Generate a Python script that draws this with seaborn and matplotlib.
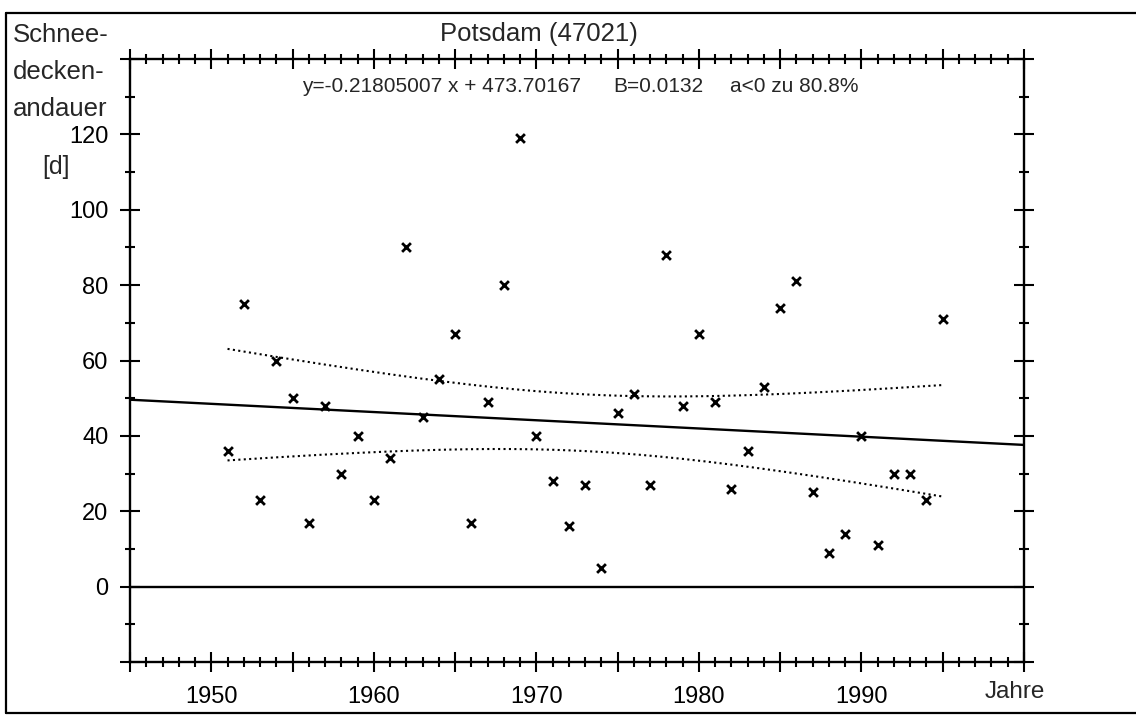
import numpy as np
import pandas as pd
import matplotlib
matplotlib.use("Agg")
import matplotlib.pyplot as plt
import seaborn as sns
from matplotlib.ticker import MultipleLocator, FuncFormatter
from matplotlib.lines import Line2D

# ---------------- data ----------------
years = list(range(1951, 1996))
snow_days = [36, 75, 23, 60, 50, 17, 48, 30, 40, 23, 34,
             90, 45, 55, 67, 17, 49, 80, 119, 40, 28, 16, 27,
             5, 46, 51, 27, 88, 48, 67, 49, 26, 36, 53,
             74, 81, 25, 9, 14, 40, 11, 30, 30, 23, 71]
slope = -0.21805007
intercept = 473.70167
t_95 = 2.017  # Student t, 95 %, df = 43

title = "Potsdam (47021)"
eq_parts = ["y=-0.21805007 x + 473.70167", "B=0.0132", "a<0 zu 80.8%"]
ylabel_lines = ["Schnee-", "decken-", "andauer"]
unit_label = "[d]"
xlabel = "Jahre"
xlim = (1945, 2000)
ylim = (-20, 140)

# ---------------- style ----------------
sns.set_theme(style="ticks")
plt.rcParams["font.family"] = ["Liberation Sans", "DejaVu Sans"]

W, H = 1136, 716
fig = plt.figure(figsize=(W / 100, H / 100), dpi=100)
fig.patch.set_facecolor("white")

def fx(px):
    return px / W

def fy(py):
    return 1 - py / H

ax = fig.add_axes([fx(130), fy(662), fx(1024) - fx(130), fy(59) - fy(662)])
ax.set_facecolor("white")

df = pd.DataFrame({"Jahr": years, "Tage": snow_days})

# regression line over the full axis
xr = np.array(xlim, dtype=float)
line_df = pd.DataFrame({"x": xr, "y": slope * xr + intercept})
sns.lineplot(data=line_df, x="x", y="y", ax=ax, color="black", lw=1.7)

# zero line
zero_df = pd.DataFrame({"x": xr, "y": [0.0, 0.0]})
sns.lineplot(data=zero_df, x="x", y="y", ax=ax, color="black", lw=1.7)

# confidence band of the regression (computed from the data)
xa = np.asarray(years, dtype=float)
ya = np.asarray(snow_days, dtype=float)
resid = ya - (slope * xa + intercept)
n = len(xa)
s = np.sqrt(np.sum(resid ** 2) / (n - 2))
sxx = np.sum((xa - xa.mean()) ** 2)
xg = np.linspace(xa.min(), xa.max(), 200)
half = t_95 * s * np.sqrt(1 / n + (xg - xa.mean()) ** 2 / sxx)
yg = slope * xg + intercept
for sign in (1, -1):
    band_df = pd.DataFrame({"x": xg, "y": yg + sign * half})
    sns.lineplot(data=band_df, x="x", y="y", ax=ax, color="black",
                 lw=1.5, linestyle=(0, (1, 1.6)))

# points
sns.scatterplot(data=df, x="Jahr", y="Tage", ax=ax, marker="x",
                 color="black", s=40, linewidth=2.0, zorder=5)

ax.set_xlim(*xlim)
ax.set_ylim(*ylim)
ax.set_xlabel("")
ax.set_ylabel("")

ax.xaxis.set_major_locator(MultipleLocator(5))
ax.xaxis.set_minor_locator(MultipleLocator(1))
ax.yaxis.set_major_locator(MultipleLocator(20))
ax.yaxis.set_minor_locator(MultipleLocator(10))
ax.xaxis.set_major_formatter(FuncFormatter(
    lambda v, p: f"{int(round(v))}" if (round(v) % 10 == 0 and 1950 <= v <= 1990) else ""))
ax.yaxis.set_major_formatter(FuncFormatter(
    lambda v, p: f"{int(round(v))}" if 0 <= v <= 120 else ""))

ax.tick_params(which="both", direction="inout", top=True, right=True,
               color="black", width=1.5)
ax.tick_params(which="major", length=15, labelsize=17, labelcolor="black")
ax.tick_params(which="minor", length=7)
ax.tick_params(axis="y", which="major", pad=8)
ax.tick_params(axis="x", which="major", pad=10)
for sp in ax.spines.values():
    sp.set_color("black")
    sp.set_linewidth(1.7)
ax.grid(False)

# texts
fig.text(fx(440), fy(41.5), title, fontsize=18.5, ha="left", va="baseline")
for txt, px in zip(eq_parts, [302, 613, 730]):
    fig.text(fx(px), fy(92.5), txt, fontsize=15, ha="left", va="baseline")
for txt, py in zip(ylabel_lines, [41.5, 79, 116]):
    fig.text(fx(13), fy(py), txt, fontsize=18.5, ha="left", va="baseline")
fig.text(fx(42), fy(174), unit_label, fontsize=18, ha="left", va="baseline")
fig.text(fx(985), fy(698), xlabel, fontsize=17.5, ha="left", va="baseline")

# outer frame
for (x0, y0, x1, y1) in [(6, 13, 1136, 13), (6, 13, 6, 713), (6, 713, 1136, 713)]:
    fig.add_artist(Line2D([fx(x0), fx(x1)], [fy(y0), fy(y1)],
                          transform=fig.transFigure, color="black", lw=1.6))

fig.savefig("out.png", dpi=100, facecolor="white")
